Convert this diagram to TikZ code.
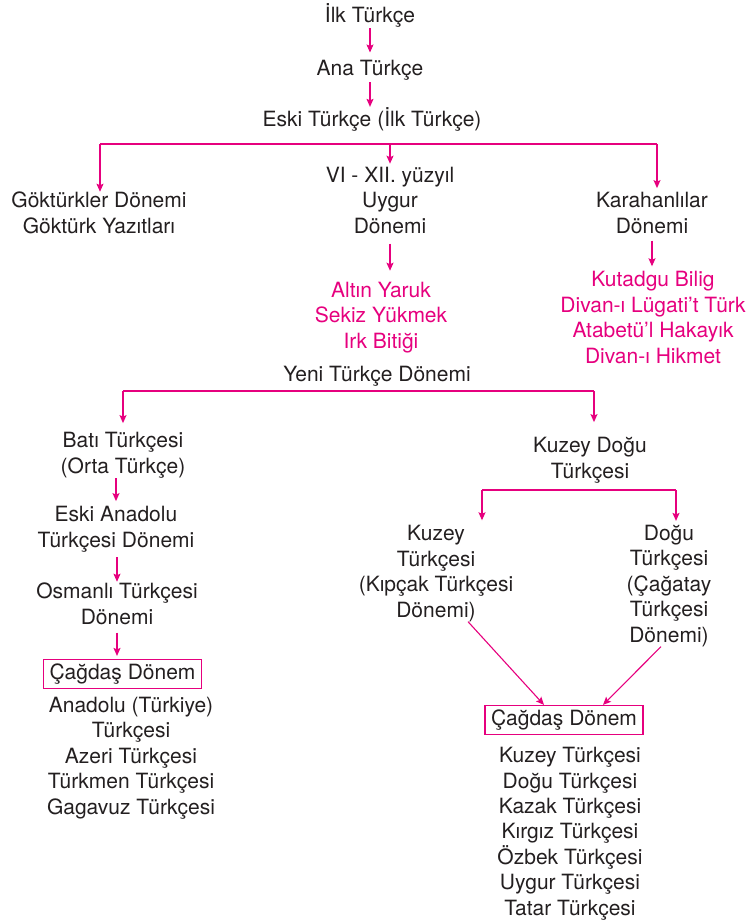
\documentclass[tikz,border=0pt]{standalone}
\usepackage{fontspec}
\setmainfont{TeX Gyre Heros}
\usetikzlibrary{arrows.meta}
\definecolor{metin}{HTML}{231F20}
\definecolor{pembe}{HTML}{E6007E}
\tikzset{
  lbl/.style={anchor=base,align=center,inner sep=0pt,text=metin,
    font=\fontsize{21}{25.4}\selectfont},
  eser/.style={lbl,text=pembe},
  donem/.style={draw=pembe,line width=1.2pt,text=metin,
    font=\fontsize{21}{25.4}\selectfont,
    text height=16.5pt,text depth=5.5pt,inner xsep=6pt,inner ysep=3.5pt},
  hat/.style={draw=pembe,line width=1.1pt},
  ok/.style={hat,-{Stealth[length=8pt,width=7pt,inset=1.5pt]}}
}

\begin{document}
\begin{tikzpicture}[x=1pt,y=-1pt]
\useasboundingbox (0,0) rectangle (754,922);
\node[lbl] (ilk) at (370,22) {İlk Türkçe};
\node[lbl] (ana) at (370,75) {Ana Türkçe};
\node[lbl] (eski) at (372,126) {Eski Türkçe (İlk Türkçe)};
\node[lbl] (gok) at (99,233) {Göktürkler Dönemi\\Göktürk Yazıtları};
\node[lbl] (uygur) at (390,233) {VI - XII. yüzyıl\\Uygur\\Dönemi};
\node[lbl] (kara) at (652,233) {Karahanlılar\\Dönemi};
\node[eser] (uygureser) at (381,348) {Altın Yaruk\\Sekiz Yükmek\\Irk Bitiği};
\node[eser] (karaeser) at (653,363) {Kutadgu Bilig\\Divan-ı Lügati’t Türk\\Atabetü’l Hakayık\\Divan-ı Hikmet};
\node[lbl] (yeni) at (377,381) {Yeni Türkçe Dönemi};
\node[lbl] (bati) at (123,473) {Batı Türkçesi\\(Orta Türkçe)};
\node[lbl] (kdogu) at (590,478) {Kuzey Doğu\\Türkçesi};
\node[lbl] (anadolu) at (116,547) {Eski Anadolu\\Türkçesi Dönemi};
\node[lbl] (osmanli) at (117,624) {Osmanlı Türkçesi\\Dönemi};
\node[donem] (cagdasL) at (122.5,674) {Çağdaş Dönem};
\node[lbl] (batilist) at (131,814) {Anadolu (Türkiye)\\Türkçesi\\Azeri Türkçesi\\Türkmen Türkçesi\\Gagavuz Türkçesi};
\node[lbl] (kuzey) at (436,617) {Kuzey\\Türkçesi\\(Kıpçak Türkçesi\\Dönemi)};
\node[lbl] (dogu) at (669,642) {Doğu\\Türkçesi\\(Çağatay\\Türkçesi\\Dönemi)};
\node[donem] (cagdasR) at (564,720) {Çağdaş Dönem};
\node[lbl] (dogulist) at (570,915) {Kuzey Türkçesi\\Doğu Türkçesi\\Kazak Türkçesi\\Kırgız Türkçesi\\Özbek Türkçesi\\Uygur Türkçesi\\Tatar Türkçesi};
\coordinate (barL) at (100,144);
\coordinate (barR) at (657,144);
\coordinate (yeniL) at (123,391);
\coordinate (yeniR) at (594,391);
\coordinate (kdL) at (482,490);
\coordinate (kdR) at (676,490);
\draw[ok,shorten <=1pt,shorten >=7pt] (ilk.south) -- (ana.north);
\draw[ok,shorten <=2pt] (ana.south) -- (ana.south |- eski.north);
\draw[hat] (barL) -- (barR);
\draw[ok] (barL) -- (barL |- gok.north);
\draw[ok,shorten >=3pt] (uygur.north |- barL) -- (uygur.north);
\draw[ok,shorten >=4pt] (barR) -- (barR |- kara.north);
\draw[ok,shorten <=10pt,shorten >=11pt] (uygur.south) -- (uygur.south |- uygureser.north);
\draw[ok,shorten <=7pt,shorten >=5pt] (kara.south) -- (kara.south |- karaeser.north);
\draw[hat] (yeniL) -- (yeniR);
\draw[ok,shorten >=9pt] (yeniL) -- (yeniL |- bati.north);
\draw[ok,shorten >=15pt] (yeniR) -- (yeniR |- kdogu.north);
\draw[ok,shorten >=5pt] (anadolu.north |- bati.south) -- (anadolu.north);
\draw[ok,shorten <=5pt,shorten >=1pt] (osmanli.north |- anadolu.south) -- (osmanli.north);
\draw[ok,shorten <=8pt,shorten >=3pt] (osmanli.south) -- (osmanli.south |- cagdasL.north);
\draw[hat] (kdL) -- (kdR);
\draw[ok,shorten >=5pt] (kdL) -- (kdL |- kuzey.north);
\draw[ok,shorten >=4pt] (kdR) -- (kdR |- dogu.north);
\draw[ok] ([xshift=32pt]kuzey.south) -- ([xshift=-20pt]cagdasR.north);
\draw[ok] ([xshift=-8pt]dogu.south) -- ([xshift=39pt]cagdasR.north);
\end{tikzpicture}
\end{document}
